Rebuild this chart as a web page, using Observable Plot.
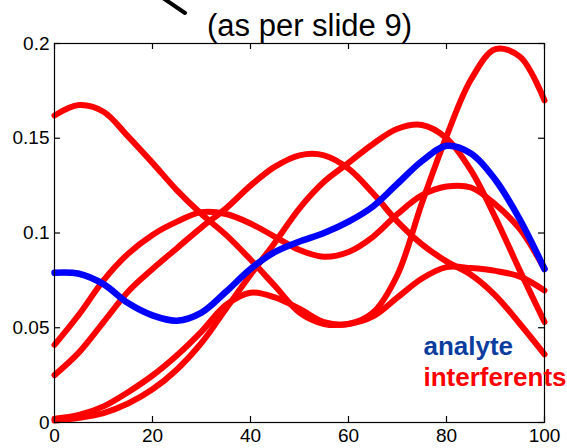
<!DOCTYPE html>
<html>
<head>
<meta charset="utf-8">
<script src="https://cdn.jsdelivr.net/npm/d3@7"></script>
<script src="https://cdn.jsdelivr.net/npm/@observablehq/plot@0.6"></script>
<style>
  html, body { margin: 0; padding: 0; background: #fff; }
  #chart { width: 567px; height: 448px; }
</style>
</head>
<body>
<div id="chart"></div>
<script>
// ---- data ----
const titleText = "(as per slide 9)";
const legendLabels = ["analyte", "interferents"];
const xTicks = [0, 20, 40, 60, 80, 100];
const yTicks = [0, 0.05, 0.1, 0.15, 0.2];
const yTickLabels = ["0", "0.05", "0.1", "0.15", "0.2"];

const xs = [0, 5, 10, 15, 20, 25, 30, 35, 40, 45, 50, 55, 60, 65, 70, 75, 80, 85, 90, 95, 100];

const analyte = [0.079, 0.0785, 0.073, 0.063, 0.0565, 0.0537, 0.058, 0.069, 0.081, 0.090, 0.0955,
                 0.100, 0.106, 0.114, 0.126, 0.138, 0.146, 0.142, 0.128, 0.107, 0.081];

const interfA = [0.162, 0.1675, 0.164, 0.151, 0.137, 0.1225, 0.110, 0.099, 0.086, 0.072, 0.058,
                 0.052, 0.052, 0.056, 0.066, 0.076, 0.082, 0.0815, 0.080, 0.077, 0.0697];
const interfB = [0.002, 0.004, 0.0085, 0.016, 0.0248, 0.0355, 0.048, 0.062, 0.0685, 0.066, 0.060,
                 0.053, 0.052, 0.058, 0.078, 0.116, 0.151, 0.181, 0.197, 0.193, 0.170];
const interfC = [0.041, 0.057, 0.075, 0.089, 0.099, 0.106, 0.111, 0.110, 0.105, 0.098, 0.091,
                 0.0875, 0.090, 0.098, 0.110, 0.120, 0.1245, 0.124, 0.115, 0.102, 0.081];
const interfD = [0.025, 0.037, 0.053, 0.069, 0.081, 0.092, 0.103, 0.113, 0.125, 0.135, 0.141,
                 0.141, 0.134, 0.121, 0.106, 0.094, 0.085, 0.078, 0.067, 0.052, 0.036];
const interfE = [0.001, 0.0025, 0.005, 0.010, 0.0175, 0.028, 0.042, 0.060, 0.078, 0.095, 0.113,
                 0.127, 0.137, 0.147, 0.155, 0.157, 0.150, 0.133, 0.108, 0.080, 0.053];

const interferents = [interfA, interfB, interfC, interfD, interfE];

// ---- build tables ----
const redRows = [];
interferents.forEach((vals, k) => vals.forEach((v, i) => redRows.push({x: xs[i], y: v, s: "i" + k})));
const blueRows = analyte.map((v, i) => ({x: xs[i], y: v}));

// ---- layout ----
const W = 567, H = 448;
const mL = 54, mR = 23, mT = 43, mB = 26;
const innerW = W - mL - mR, innerH = H - mT - mB;
const tick = 6;
const font = "'Liberation Sans', Arial, Helvetica, sans-serif";

const plot = Plot.plot({
  width: W,
  height: H,
  marginLeft: mL,
  marginRight: mR,
  marginTop: mT,
  marginBottom: mB,
  style: {fontFamily: font, fontSize: "19px", color: "#000", background: "#fff"},
  x: {domain: [0, 100], label: null},
  y: {domain: [0, 0.2], label: null},
  marks: [
    Plot.line(redRows, {x: "x", y: "y", z: "s", stroke: "#ff0000", strokeWidth: 6,
      curve: "catmull-rom", strokeLinecap: "round", strokeLinejoin: "round"}),
    Plot.line(blueRows, {x: "x", y: "y", stroke: "#0000ff", strokeWidth: 6.5,
      curve: "catmull-rom", strokeLinecap: "round", strokeLinejoin: "round"}),
    // inward ticks on all four sides
    Plot.ruleX(xTicks, {x: d => d, insetTop: innerH - tick, stroke: "#000", strokeWidth: 1.2}),
    Plot.ruleX(xTicks, {x: d => d, insetBottom: innerH - tick, stroke: "#000", strokeWidth: 1.2}),
    Plot.ruleY(yTicks, {y: d => d, insetRight: innerW - tick, stroke: "#000", strokeWidth: 1.2}),
    Plot.ruleY(yTicks, {y: d => d, insetLeft: innerW - tick, stroke: "#000", strokeWidth: 1.2}),
    Plot.frame({stroke: "#000", strokeWidth: 1.2}),
    Plot.axisX(xTicks, {anchor: "bottom", tickSize: 0, tickPadding: 6, fontSize: 19, fill: "#000",
      tickFormat: d => String(d)}),
    Plot.axisY(yTicks, {anchor: "left", tickSize: 0, tickPadding: 5, fontSize: 19, fill: "#000",
      tickFormat: d => yTickLabels[yTicks.indexOf(d)]}),
    // title
    Plot.text([titleText], {frameAnchor: "top", dy: -8, dx: 10, lineAnchor: "bottom",
      fontSize: 31, fill: "#000", text: d => d}),
    // legend labels
    Plot.text([legendLabels[0]], {x: 75.3, y: 0.0354, text: d => d, textAnchor: "start",
      lineAnchor: "bottom", fontSize: 26, fontWeight: "bold", fill: "#0b3d9e"}),
    Plot.text([legendLabels[1]], {x: 75.3, y: 0.0190, text: d => d, textAnchor: "start",
      lineAnchor: "bottom", fontSize: 26, fontWeight: "bold", fill: "#ff0000"})
  ]
});

// decorative fragment of an annotation arrow at the top
d3.select(plot).append("line")
  .attr("x1", 160).attr("y1", -4).attr("x2", 185).attr("y2", 13)
  .attr("stroke", "#000").attr("stroke-width", 4).attr("stroke-linecap", "round");

document.getElementById("chart").appendChild(plot);
</script>
</body>
</html>
